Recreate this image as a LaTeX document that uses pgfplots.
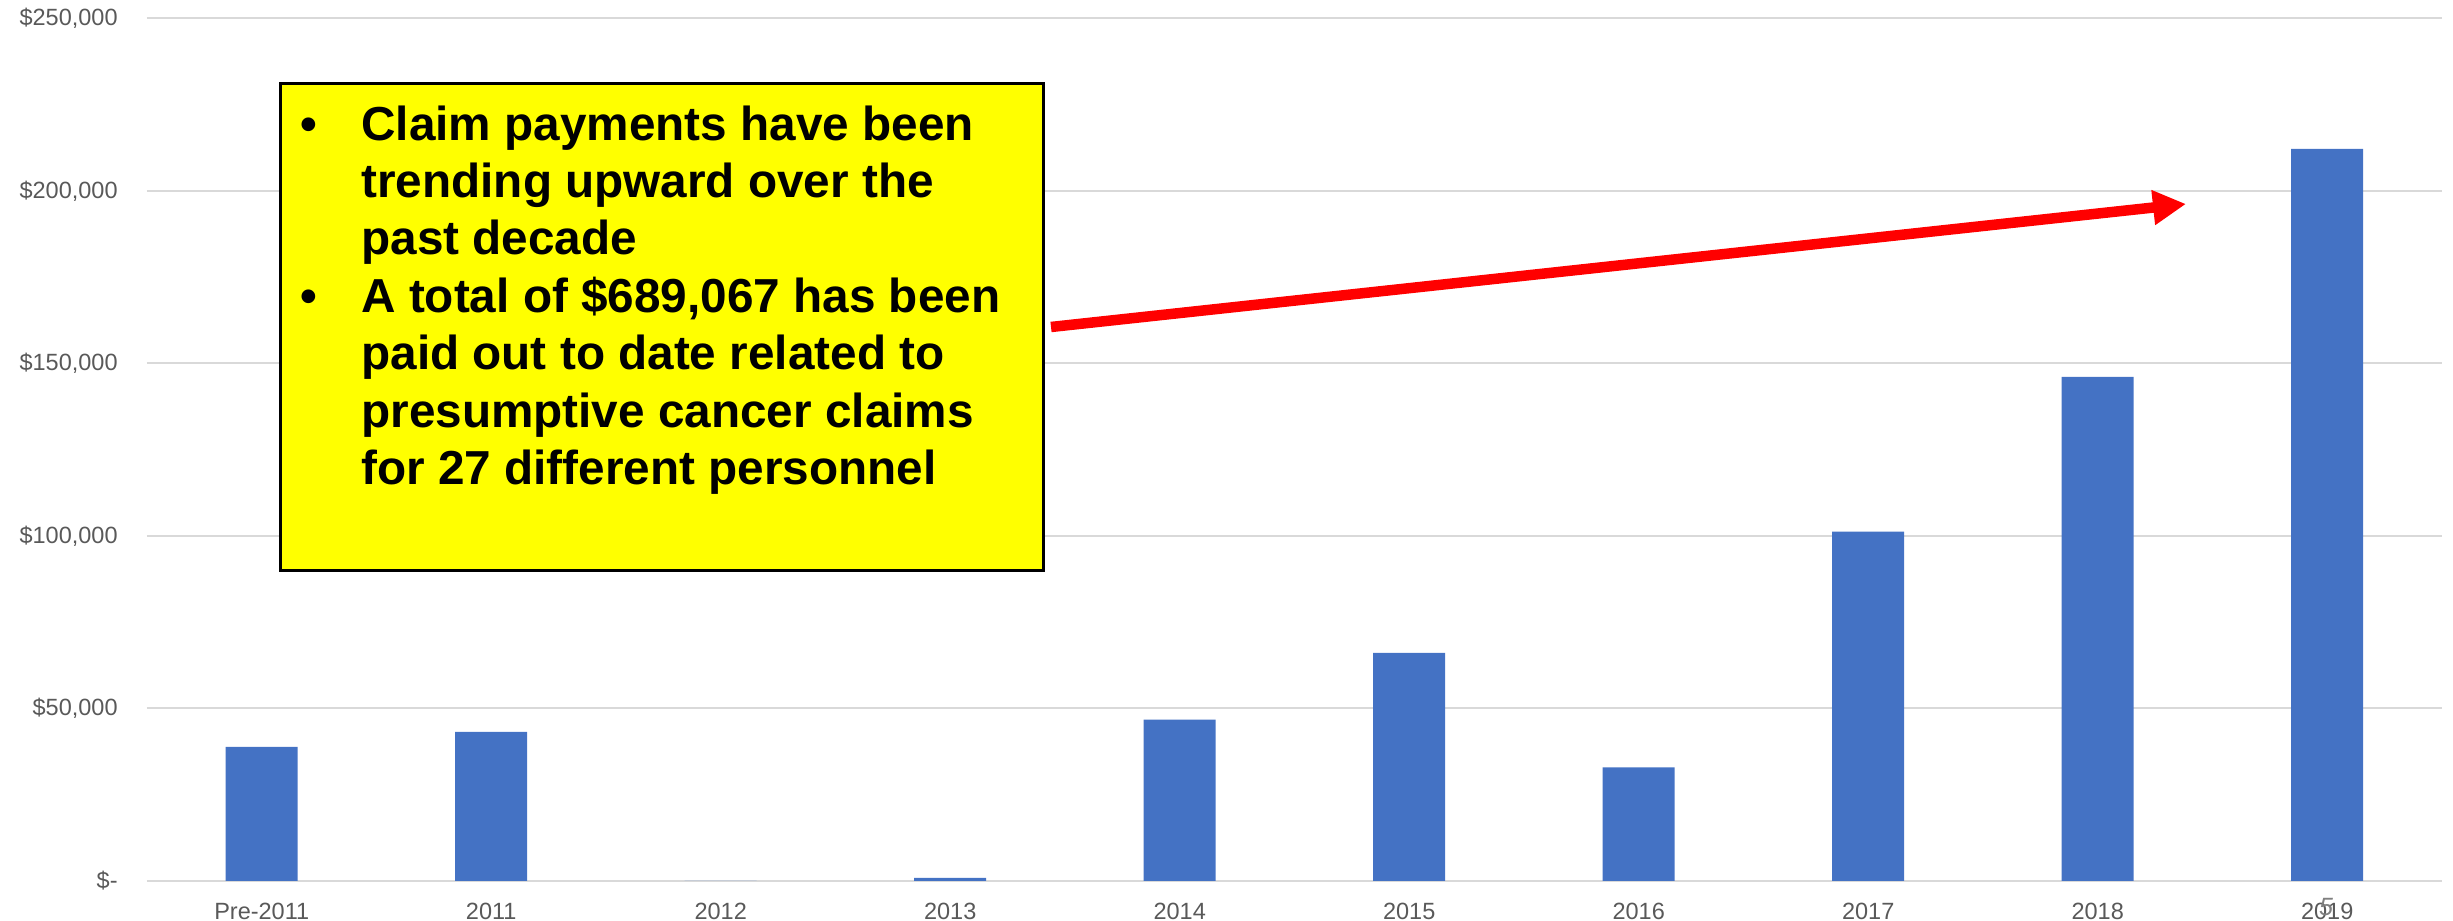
\documentclass[border=0pt]{standalone}
\usepackage{fontspec}
\setmainfont{Liberation Sans}
\usepackage{pgfplots}
\pgfplotsset{compat=1.18}
\usetikzlibrary{arrows.meta}
\definecolor{barblue}{HTML}{4472C4}
\definecolor{gridgray}{HTML}{D9D9D9}
\definecolor{ticktext}{HTML}{595959}
\definecolor{pagegray}{HTML}{7F7F7F}
\definecolor{boxyellow}{HTML}{FFFF00}
\definecolor{arrowred}{HTML}{FF0000}

\begin{document}
\begin{tikzpicture}
\path[use as bounding box] (0,0) rectangle (1226.5pt,460.5pt);
\begin{axis}[
  at={(73.5pt,20pt)}, anchor=south west,
  scale only axis, width=1147.5pt, height=431.25pt,
  xmin=-0.5, xmax=9.5, ymin=0, ymax=250000,
  ybar, bar width=36pt,
  xtick={0,...,9},
  xticklabels={Pre-2011,2011,2012,2013,2014,2015,2016,2017,2018,2019},
  ytick={0,50000,100000,150000,200000,250000},
  yticklabels={{\$-},{\$50,000},{\$100,000},{\$150,000},{\$200,000},{\$250,000}},
  ymajorgrids, grid style={gridgray, line width=1pt},
  axis line style={draw=none},
  major tick length=0pt,
  tick style={draw=none},
  ticklabel style={font=\fontsize{11.75}{14}\selectfont, text=ticktext},
  xticklabel style={inner sep=0pt, anchor=north, yshift=-11pt},
  yticklabel style={inner sep=0pt, anchor=east, xshift=-14.5pt},
  scaled y ticks=false,
]
\addplot[fill=barblue, draw=none] coordinates {(0,38900) (1,43200) (2,0) (3,900) (4,46800) (5,66100) (6,32900) (7,101300) (8,146100) (9,212200)};
\end{axis}
\begin{scope}[x=0.5pt,y=0.5pt]
\draw[arrowred, line width=5.25pt, -{Triangle[length=16.5pt,width=16.5pt]}] (1051,594) -- (2186,717);
\filldraw[fill=boxyellow, draw=black, line width=1.5pt] (280,837) rectangle (1043,350);
\begin{scope}[every node/.style={anchor=base west, inner sep=0pt, font=\fontsize{23.85}{28}\bfseries\selectfont}]
\node at (300,780.3) {\textbullet};
\node at (300,608) {\textbullet};
\node at (361,780.3) {Claim payments have been};
\node at (361,723) {trending upward over the};
\node at (361,666) {past decade};
\node at (361,608) {A total of \$689,067 has been};
\node at (361,551) {paid out to date related to};
\node at (361,493) {presumptive cancer claims};
\node at (361,436) {for 27 different personnel};
\end{scope}
\node[anchor=base, inner sep=0pt, font=\fontsize{12.5}{14}\itshape\selectfont, text=pagegray] at (2326,5) {5};
\end{scope}
\end{tikzpicture}
\end{document}
